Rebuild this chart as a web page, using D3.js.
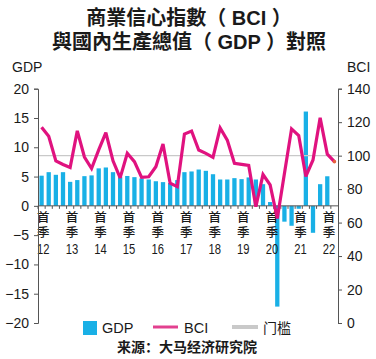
<!DOCTYPE html>
<html><head><meta charset="utf-8">
<script src="https://cdn.jsdelivr.net/npm/d3@7"></script>
<style>
html,body{margin:0;padding:0;background:#fff;}
svg{display:block;}
text{font-family:"Liberation Sans",Arial,Helvetica,sans-serif;fill:#1a1a1a;}
.cjk{font-family:"Liberation Sans","Noto Sans CJK TC",sans-serif;}
.cjks{font-family:"Liberation Sans","Noto Sans CJK SC",sans-serif;}
</style></head>
<body>
<script>
// ---- data ----
const years = ["12","13","14","15","16","17","18","19","20","21","22"];
const quarters = [];
years.forEach(y => ["Q1","Q2","Q3","Q4"].forEach(q => quarters.push(y + q)));
quarters.splice(42); // 2012Q1 .. 2022Q2
const gdpValues = [5.15,5.75,5.3,5.75, 4.1,4.4,5.07,5.2, 6.4,6.55,5.75,4.9,
  5.1,4.9,4.67,4.5, 4.2,4.05,3.9,4.4, 5.75,5.87,6.2,5.98, 5.4,4.5,4.5,4.73,
  4.56,4.85,4.5,3.7, 0.65,-17.2,-2.7,-3.4, -0.5,16.1,-4.6,3.7, 5.05];
const bciValues = [117,111.6,96.8,94.7, 92.9,114.8,99.2,92.3, 103.4,113.8,96.9,86.7,
  101.4,96.4,87,87.4, 93.4,107,83.5,81.5, 112.9,114.7,103.4,101.4, 99,116.5,109.3,95.4,
  94.8,94.1,69.5,88.7, 82.5,62.5,89.3,116,
  112,87.6,97.4,122.6, 100.9,96.4];
const threshold = 100;
const leftTicks = [-20,-15,-10,-5,0,5,10,15,20];
const rightTicks = [0,20,40,60,80,100,120,140];
const titleLines = ["商業信心指數（ BCI ）","與國內生產總值（ GDP ）對照"];
const legendLabels = ["GDP","BCI","门槛"];
const sourceText = "来源：大马经济研究院";

// ---- layout ----
const W = 376, H = 359;
const L = 38, R = 338, T = 88.7, B = 323;
const cBar = "#19b0e6", cLine = "#e0127f", cThr = "#c9c9c9", cAxis = "#555";

const svg = d3.select("body").append("svg").attr("width", W).attr("height", H);

const x = d3.scaleBand().domain(quarters).range([L, R]).paddingInner(0.4).paddingOuter(0.2);
const yL = d3.scaleLinear().domain([-20, 20]).range([B, T]);
const yR = d3.scaleLinear().domain([0, 140]).range([B, T]);
const cx = q => x(q) + x.bandwidth() / 2;

// title
svg.append("g").selectAll("text").data(titleLines).join("text")
  .attr("class","cjk")
  .attr("x", 189).attr("y", (d,i) => 25 + i * 23.5)
  .attr("text-anchor","middle")
  .style("font-size","20px").style("font-weight","bold")
  .text(d => d);

// axis titles
svg.append("text").attr("x", 12).attr("y", 72).style("font-size","14px").text("GDP");
svg.append("text").attr("x", 347).attr("y", 72).style("font-size","14px").text("BCI");

// bars
svg.append("g").selectAll("rect").data(gdpValues).join("rect")
  .attr("x", (d,i) => x(quarters[i]))
  .attr("width", x.bandwidth())
  .attr("y", d => yL(Math.max(0, d)))
  .attr("height", d => Math.abs(yL(d) - yL(0)))
  .attr("fill", cBar);

// x baseline with ticks
const xb = svg.append("g");
xb.append("line").attr("x1", L).attr("x2", R).attr("y1", yL(0)).attr("y2", yL(0))
  .attr("stroke", cAxis).attr("stroke-width", 1);
xb.selectAll("line.t").data(quarters).join("line").attr("class","t")
  .attr("x1", d => x(d) - x.step()*x.paddingInner()/2).attr("x2", d => x(d) - x.step()*x.paddingInner()/2)
  .attr("y1", yL(0)).attr("y2", yL(0) + 3)
  .attr("stroke", cAxis).attr("stroke-width", 1);

// x labels (Q1 of each year)
const q1 = quarters.filter(q => q.endsWith("Q1"));
const xl = svg.append("g").selectAll("g").data(q1).join("g")
  .attr("transform", d => `translate(${cx(d) + 1.8},0)`);
xl.append("text").attr("class","cjk").attr("y", 222).attr("text-anchor","middle")
  .style("font-size","12.5px").style("font-weight","500").text("首");
xl.append("text").attr("class","cjk").attr("y", 237).attr("text-anchor","middle")
  .style("font-size","12.5px").style("font-weight","500").text("季");
xl.append("text").attr("y", 253.5).attr("text-anchor","middle")
  .style("font-size","15.5px")
  .attr("textLength", 12.5).attr("lengthAdjust","spacingAndGlyphs")
  .text(d => d.slice(0,2));

// threshold line
svg.append("line").attr("x1", L).attr("x2", R)
  .attr("y1", yR(threshold)).attr("y2", yR(threshold))
  .attr("stroke", cThr).attr("stroke-width", 1.2);

// BCI line
const line = d3.line().x((d,i) => cx(quarters[i])).y(d => yR(d)).curve(d3.curveLinear);
svg.append("path").datum(bciValues).attr("d", line)
  .attr("fill","none").attr("stroke", cLine).attr("stroke-width", 3.2)
  .attr("stroke-linejoin","miter").attr("stroke-miterlimit", 3);
const lastI = bciValues.length - 1;
svg.append("circle").attr("cx", cx(quarters[lastI])).attr("cy", yR(bciValues[lastI]))
  .attr("r", 1.8).attr("fill", "#e8603c");

// left axis
const axL = svg.append("g").attr("transform", `translate(${L},0)`)
  .call(d3.axisLeft(yL).tickValues(leftTicks).tickSize(4).tickPadding(5).tickFormat(d3.format("d")));
axL.select(".domain").attr("stroke", cAxis);
axL.selectAll(".tick line").attr("stroke", cAxis);
axL.selectAll("text").style("font-size","14px").style("font-family","Liberation Sans, Arial, sans-serif").attr("fill","#1a1a1a");

// right axis
const axR = svg.append("g").attr("transform", `translate(${R},0)`)
  .call(d3.axisRight(yR).tickValues(rightTicks).tickSize(4).tickPadding(5).tickFormat(d3.format("d")));
axR.select(".domain").attr("stroke", cAxis);
axR.selectAll(".tick line").attr("stroke", cAxis);
axR.selectAll("text").style("font-size","14px").style("font-family","Liberation Sans, Arial, sans-serif").attr("fill","#1a1a1a");

// legend
const lg = svg.append("g");
lg.append("rect").attr("x", 83).attr("y", 321).attr("width", 14).attr("height", 14).attr("fill", cBar);
lg.append("text").attr("x", 102).attr("y", 333).style("font-size","14.5px").text(legendLabels[0]);
lg.append("line").attr("x1", 153).attr("x2", 178).attr("y1", 327).attr("y2", 327)
  .attr("stroke", "#e2408f").attr("stroke-width", 3);
lg.append("text").attr("x", 184).attr("y", 333).style("font-size","14.5px").text(legendLabels[1]);
lg.append("line").attr("x1", 232).attr("x2", 258).attr("y1", 327).attr("y2", 327)
  .attr("stroke", cThr).attr("stroke-width", 4);
lg.append("text").attr("class","cjks").attr("x", 263).attr("y", 333).style("font-size","14px").text(legendLabels[2]);

// source
svg.append("text").attr("class","cjks").attr("x", 187).attr("y", 352).attr("text-anchor","middle")
  .style("font-size","14px").style("font-weight","bold").text(sourceText);
</script>
</body></html>
